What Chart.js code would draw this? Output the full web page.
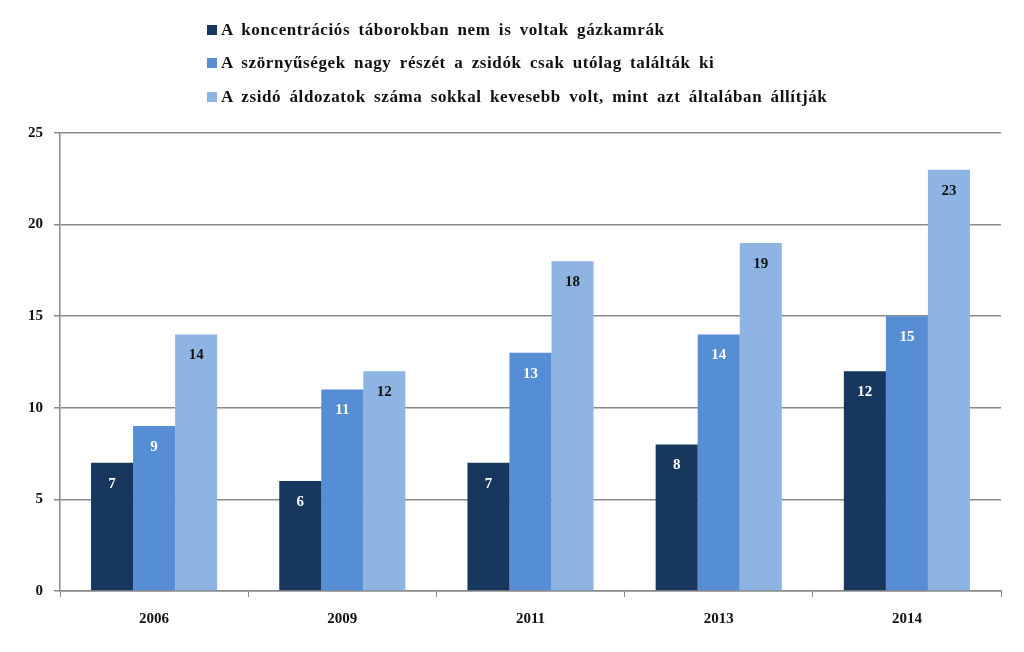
<!DOCTYPE html>
<html><head><meta charset="utf-8">
<script src="https://cdn.jsdelivr.net/npm/chart.js@4/dist/chart.umd.min.js"></script>
<style>
html,body{margin:0;padding:0;background:#fff;}
#wrap{position:relative;width:1024px;height:652px;}
#legend{position:absolute;left:207px;top:13px;font-family:'Liberation Serif',serif;font-weight:bold;font-size:17px;color:#111;}
#legend div{height:33.5px;display:flex;align-items:center;word-spacing:3.5px;letter-spacing:0.6px;white-space:nowrap;}
#legend span.sw{display:inline-block;width:10px;height:10px;margin-right:4px;}
</style></head>
<body><div id="wrap"><canvas id="c" width="1024" height="652"></canvas><div id="legend"></div></div>
<script>
const categories = ['2006','2009','2011','2013','2014'];
const seriesNames = [
  'A koncentrációs táborokban nem is voltak gázkamrák',
  'A szörnyűségek nagy részét a zsidók csak utólag találták ki',
  'A zsidó áldozatok száma sokkal kevesebb volt, mint azt általában állítják'
];
const gazkamrak = [7, 6, 7, 8, 12];
const utolag = [9, 11, 13, 14, 15];
const aldozatok = [14, 12, 18, 19, 23];
const yTicks = [0, 5, 10, 15, 20, 25];

const colors = ['#17375E', '#558ED5', '#8DB4E2'];
const labelColors = ['#ffffff', '#ffffff', '#111111'];
const FONT = "'Liberation Serif', serif";

const lg = document.getElementById('legend');
seriesNames.forEach((n,i)=>{
  const d=document.createElement('div');
  const sw=document.createElement('span');
  sw.className='sw'; sw.style.background=colors[i];
  d.appendChild(sw);
  d.appendChild(document.createTextNode(n));
  lg.appendChild(d);
});

const labelPlugin = {
  id:'barLabels',
  afterDatasetsDraw(chart){
    const ctx = chart.ctx;
    ctx.save();
    ctx.font = 'bold 15px ' + FONT;
    ctx.textAlign='center'; ctx.textBaseline='middle';
    chart.data.datasets.forEach((ds,di)=>{
      const meta = chart.getDatasetMeta(di);
      meta.data.forEach((bar,i)=>{
        ctx.fillStyle = labelColors[di];
        ctx.fillText(String(ds.data[i]), bar.x, bar.y + 21);
      });
    });
    ctx.restore();
  }
};

new Chart(document.getElementById('c'), {
  type:'bar',
  data:{
    labels: categories,
    datasets:[
      {label: seriesNames[0], data: gazkamrak, backgroundColor: colors[0]},
      {label: seriesNames[1], data: utolag, backgroundColor: colors[1]},
      {label: seriesNames[2], data: aldozatok, backgroundColor: colors[2]}
    ]
  },
  options:{
    responsive:false, animation:false,
    layout:{padding:{top:133, right:23, bottom:0, left:0}},
    datasets:{bar:{categoryPercentage:0.67, barPercentage:1}},
    plugins:{legend:{display:false}, tooltip:{enabled:false}},
    scales:{
      x:{
        grid:{display:true, drawOnChartArea:false, drawTicks:true, tickLength:6, color:'#898989', offset:true},
        border:{display:true, color:'#898989', width:1.5},
        ticks:{color:'#111', font:{family:FONT, weight:'bold', size:15}, padding:13},
        afterFit(s){ s.height = 61; }
      },
      y:{
        min:0, max:25,
        afterBuildTicks(s){ s.ticks = yTicks.map(v=>({value:v})); },
        grid:{color:'#898989', lineWidth:1.5, tickLength:6},
        border:{display:true, color:'#898989', width:1.5},
        ticks:{color:'#111', font:{family:FONT, weight:'bold', size:15}, padding:11},
        afterFit(s){ s.width = 60; }
      }
    }
  },
  plugins:[labelPlugin]
});
</script></body></html>
